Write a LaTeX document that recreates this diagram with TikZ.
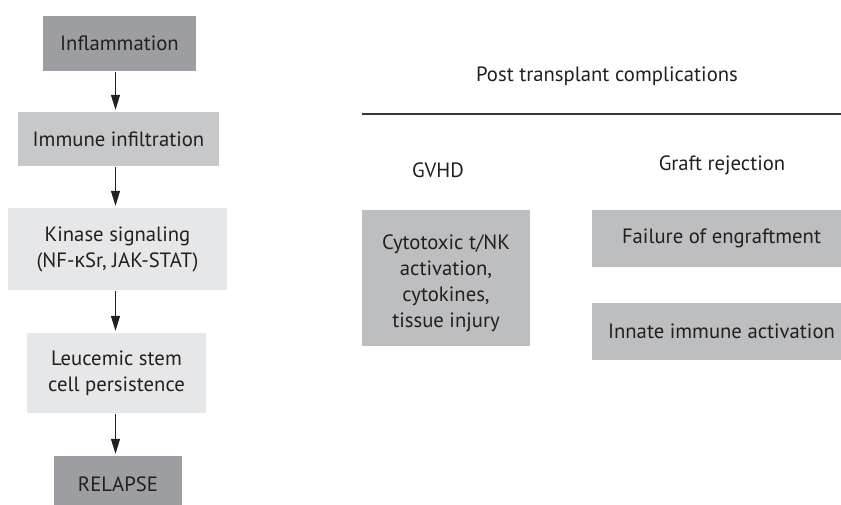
\documentclass[tikz,border=0pt]{standalone}
\usepackage{fontspec}
\setmainfont{PT Sans}
\newfontfamily\greekfont{Open Sans}
\usetikzlibrary{arrows.meta}
\definecolor{txt}{HTML}{231F20}
\definecolor{darkbox}{HTML}{9D9EA2}
\definecolor{midbox}{HTML}{C7C8CA}
\definecolor{lightbox}{HTML}{E6E7E8}
\definecolor{rbox}{HTML}{BCBEC0}
\begin{document}
\begin{tikzpicture}[x=1pt,y=-1pt,
  font=\fontsize{20.7}{26}\selectfont, text=txt,
  box/.style={fill=#1, draw=none, inner sep=0pt, align=center},
  flow/.style={-{Triangle[length=15pt,width=9pt]}, line width=1pt, draw=txt,
    shorten <=1pt, shorten >=2pt},
  rule/.style={line width=1.3pt, draw=txt!90}]
\useasboundingbox (0,0) rectangle (841,505);

% left column: progression to relapse
\node[box=darkbox, minimum width=153pt, minimum height=55pt] (infl) at (119.5,43.5) {Inflammation};
\node[box=midbox, minimum width=201pt, minimum height=54pt] (immune) at (118.5,139) {Immune infiltration};
\node[box=lightbox, minimum width=219pt, minimum height=82pt] (kinase) at (117.5,249)
  {Kinase signaling\\(NF-{\greekfont κ}Sr, JAK-STAT)};
\node[box=lightbox, minimum width=179pt, minimum height=80pt] (leuc) at (116.5,373)
  {Leucemic stem\\cell persistence};
\node[box=darkbox, minimum width=128pt, minimum height=56pt] (relapse) at (118,484) {RELAPSE};

\coordinate (ax) at (115.5,0);
\draw[flow] (infl.south -| ax) -- (immune.north -| ax);
\draw[flow] (immune.south -| ax) -- (kinase.north -| ax);
\draw[flow] (kinase.south -| ax) -- (leuc.north -| ax);
\draw[flow] (leuc.south -| ax) -- (relapse.north -| ax);

% right part: post transplant complications
\node (title) at (607,76) {Post transplant complications};
\coordinate (ruleL) at (362,114);
\coordinate (ruleR) at (850,114);
\draw[rule] (ruleL) -- (ruleR);

\node (gvhd) at (438,170) {GVHD};
\node (graft) at (722,165) {Graft rejection};

% the text sits a little below the middle of its box
\node[box=rbox, minimum width=168pt, minimum height=136pt] (cyto) at (446,278) {};
\node[align=center, inner sep=0pt] (cytotext) at ([yshift=-5pt]cyto.center)
  {Cytotoxic t/NK\\activation,\\cytokines,\\tissue injury};
\node[box=rbox, minimum width=259pt, minimum height=57pt] (fail) at (721.5,238.5)
  {Failure of engraftment};
\node[box=rbox, minimum width=259pt, minimum height=57pt] (innate) at (721.5,331.5)
  {Innate immune activation};
\end{tikzpicture}
\end{document}
